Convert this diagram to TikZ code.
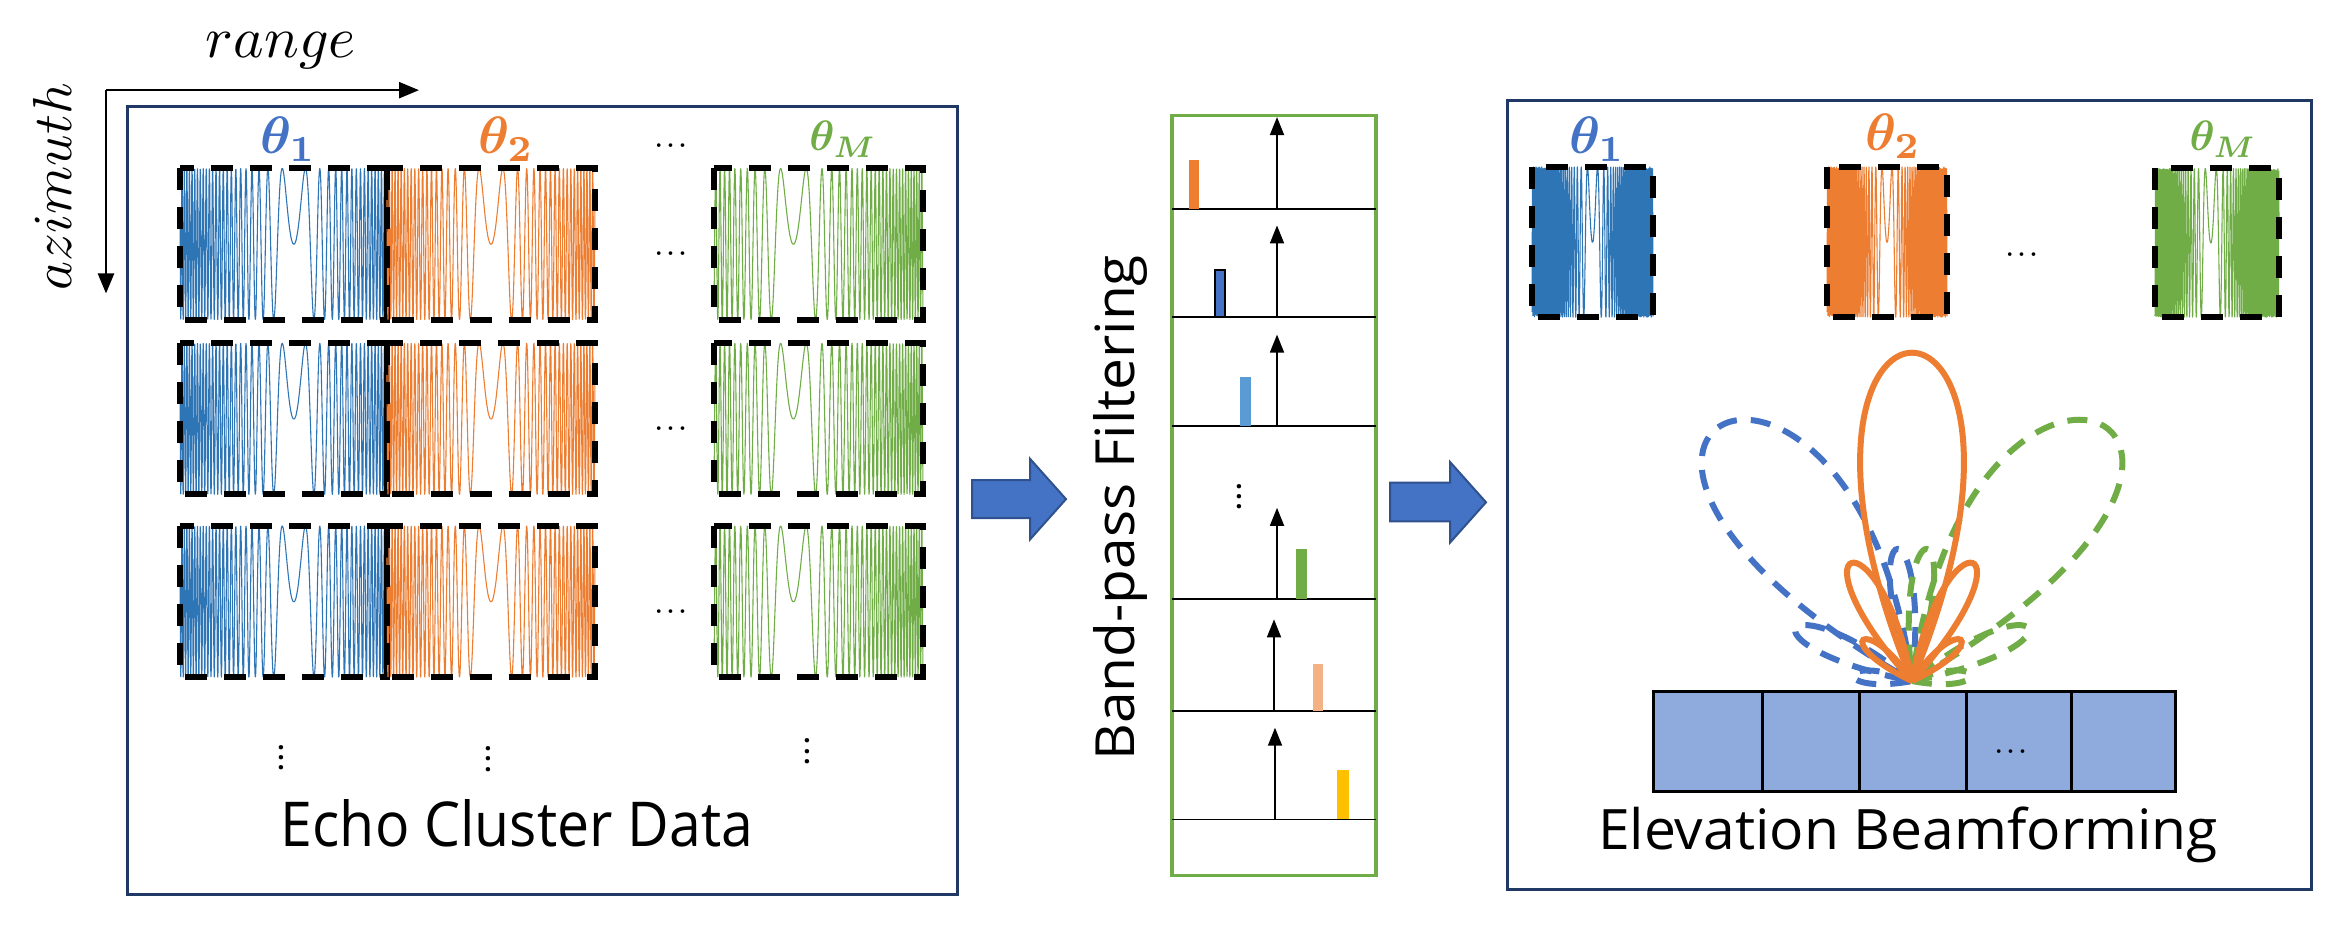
\documentclass[tikz,border=0pt]{standalone}
\usepackage{amsmath,bm}
\usepackage{fontspec}
\setmainfont{Open Sans}
\usetikzlibrary{arrows.meta}
\definecolor{cB}{HTML}{2E75B6}
\definecolor{cO}{HTML}{ED7D31}
\definecolor{cG}{HTML}{70AD47}
\definecolor{tB}{HTML}{4472C4}
\definecolor{navy}{HTML}{1F3864}
\definecolor{arrB}{HTML}{4472C4}
\definecolor{arrE}{HTML}{2F528F}
\definecolor{cellB}{HTML}{8FAADC}
\definecolor{peach}{HTML}{F4B183}
\definecolor{gold}{HTML}{FFC000}
\definecolor{lblue}{HTML}{5B9BD5}
\newcommand\mychirp[7]{% xl, yt, w, h, color, center, k
  \draw[#5, line width=1.1pt, line join=round] plot[domain=0:1, samples=900, smooth]
     ({#1+#3*\x},{-#2-#4/2+#4/2*sin(#7*(\x-#6)^2 r)});
  \draw[tiledash] (#1,-#2) rectangle ({#1+#3},{-#2-#4});}
\newcommand\mylobe[4]{\draw[#4] (O) .. controls +({#1-#2}:#3) and +({#1+#2}:#3) .. (O);}
\newcommand\myhdots{\resizebox{36pt}{!}{$\boldsymbol{\cdots}$}}
\newcommand\myvdots{\resizebox{!}{40pt}{$\boldsymbol{\vdots}$}}
\begin{document}
\begin{tikzpicture}[x=1pt,y=0.791pt,
  tiledash/.style={line width=6pt, dash pattern=on 22pt off 17pt, black},
  frame/.style={navy, line width=3pt},
  lbl/.style={inner sep=0pt},
  bigarrow/.style={fill=arrB, draw=arrE, line width=2pt},
  axisarr/.style={-{Triangle[length=18pt,width=14pt]}, line width=1.8pt},
  solidlobe/.style={cO, line width=6pt},
  dashB/.style={tB, line width=6pt, dash pattern=on 20pt off 14pt},
  dashG/.style={cG, line width=6pt, dash pattern=on 20pt off 14pt},
  dotsn/.style={inner sep=0pt}]
\useasboundingbox (0,0) rectangle (2348,-1174.5);
% ---------- left panel
\draw[frame] (127,-135) rectangle (957,-1131);
\coordinate (ax) at (106,-114);
\coordinate (axr) at (419,-114);
\coordinate (axd) at (106,-371);
\draw[-{Triangle[length=20pt,width=16pt]}, line width=2.5pt] (ax) -- (axr);
\draw[-{Triangle[length=20pt,width=16pt]}, line width=2.5pt] (ax) -- (axd);
\node[inner sep=0pt] (rng) at (281,-64) {\resizebox{150pt}{!}{$range$}};
\node[inner sep=0pt, rotate=90] (azi) at (52,-236) {\resizebox{207pt}{!}{$azimuth$}};
\node[lbl, tB] (t1) at (288,-176) {\resizebox{56pt}{!}{$\bm{\theta_1}$}};
\node[lbl, cO] (t2) at (506,-176) {\resizebox{56pt}{!}{$\bm{\theta_2}$}};
\node[lbl, cG] (tM) at (843,-176) {\resizebox{67pt}{!}{$\bm{\theta_M}$}};
\node[dotsn] (d0) at (673,-185) {\myhdots};
\foreach \yt in {213,434,665}{
  \mychirp{180}{\yt}{207}{191}{cB}{0.55}{500}
  \mychirp{387}{\yt}{208}{191}{cO}{0.5}{480}
  \mychirp{714}{\yt}{209}{191}{cG}{0.38}{420}
  \node[dotsn] at (673,{-\yt-108}) {\myhdots};
}
\node[dotsn] (v1) at (281,-948) {\myvdots};
\node[dotsn] (v2) at (488,-950) {\myvdots};
\node[dotsn] (v3) at (807,-940) {\myvdots};
\node[inner sep=0pt] (ecd) at (517,-1041) {\resizebox{472pt}{47pt}{Echo Cluster Data}};
% ---------- arrow 1
\draw[bigarrow] (972,-607) -- (1030,-607) -- (1030,-580) -- (1066,-631) -- (1030,-682) -- (1030,-655) -- (972,-655) -- cycle;
% ---------- band-pass
\node[inner sep=0pt, rotate=90] (bpf) at (1120,-642) {\resizebox*{506pt}{54pt}{Band-pass Filtering}};
\draw[cG, line width=3.5pt] (1172,-146) rectangle (1376,-1107);
\foreach \yl/\yt/\ax in {264/148/1277, 401/285/1277, 539/423/1277, 757/642/1277, 899/783/1274, 1036/920/1275}{
  \draw[line width=1.8pt] (1172,-\yl) -- (1376,-\yl);
  \draw[axisarr] (\ax,-\yl) -- (\ax,-\yt);
}
\fill[cO] (1189,-264) rectangle (1199,-202);
\draw[fill=tB, line width=2pt] (1215,-401) rectangle (1225,-341);
\fill[lblue] (1240,-539) rectangle (1251,-477);
\fill[cG] (1296,-757) rectangle (1307,-694);
\fill[peach] (1313,-899) rectangle (1323,-840);
\fill[gold] (1337,-1036) rectangle (1349,-974);
\node[dotsn] (vb) at (1239,-618) {\myvdots};
% ---------- arrow 2
\draw[bigarrow] (1390,-610) -- (1450,-610) -- (1450,-584) -- (1486,-635) -- (1450,-686) -- (1450,-659) -- (1390,-659) -- cycle;
% ---------- right panel
\draw[frame] (1507,-127) rectangle (2311,-1124);
\node[lbl, tB] (r1) at (1597,-176) {\resizebox{56pt}{!}{$\bm{\theta_1}$}};
\node[lbl, cO] (r2) at (1893,-172) {\resizebox{56pt}{!}{$\bm{\theta_2}$}};
\node[lbl, cG] (rM) at (2223,-176) {\resizebox{67pt}{!}{$\bm{\theta_M}$}};
\mychirp{1532}{211}{121}{190}{cB}{0.5}{900}
\mychirp{1827}{211}{120}{190}{cO}{0.5}{900}
\mychirp{2155}{213}{124}{188}{cG}{0.45}{800}
\node[dotsn] (rd) at (2024,-322) {\myhdots};
% array
\foreach \xa/\xb in {1653/1762,1762/1859,1859/1966,1966/2071,2071/2175}{
  \draw[fill=cellB, line width=3pt] (\xa,-874) rectangle (\xb,-1000);
}
\node[dotsn] (ad) at (2013,-950) {\myhdots};
\node[inner sep=0pt] (ebf) at (1908,-1056) {\resizebox*{620pt}{56pt}{Elevation Beamforming}};
% lobes
\coordinate (O) at (1912,-861);
\mylobe{120}{24}{548}{dashB}
\mylobe{95}{10}{227}{dashB}
\mylobe{150}{16}{186}{dashB}
\mylobe{173}{20}{84}{dashB}
\mylobe{60}{24}{548}{dashG}
\mylobe{85}{10}{227}{dashG}
\mylobe{30}{16}{186}{dashG}
\mylobe{7}{20}{84}{dashG}
\mylobe{90}{18}{582}{solidlobe}
\mylobe{112}{13.6}{221}{solidlobe}
\mylobe{68}{13.6}{221}{solidlobe}
\mylobe{133}{16}{99}{solidlobe}
\mylobe{47}{16}{99}{solidlobe}
\end{tikzpicture}
\end{document}
